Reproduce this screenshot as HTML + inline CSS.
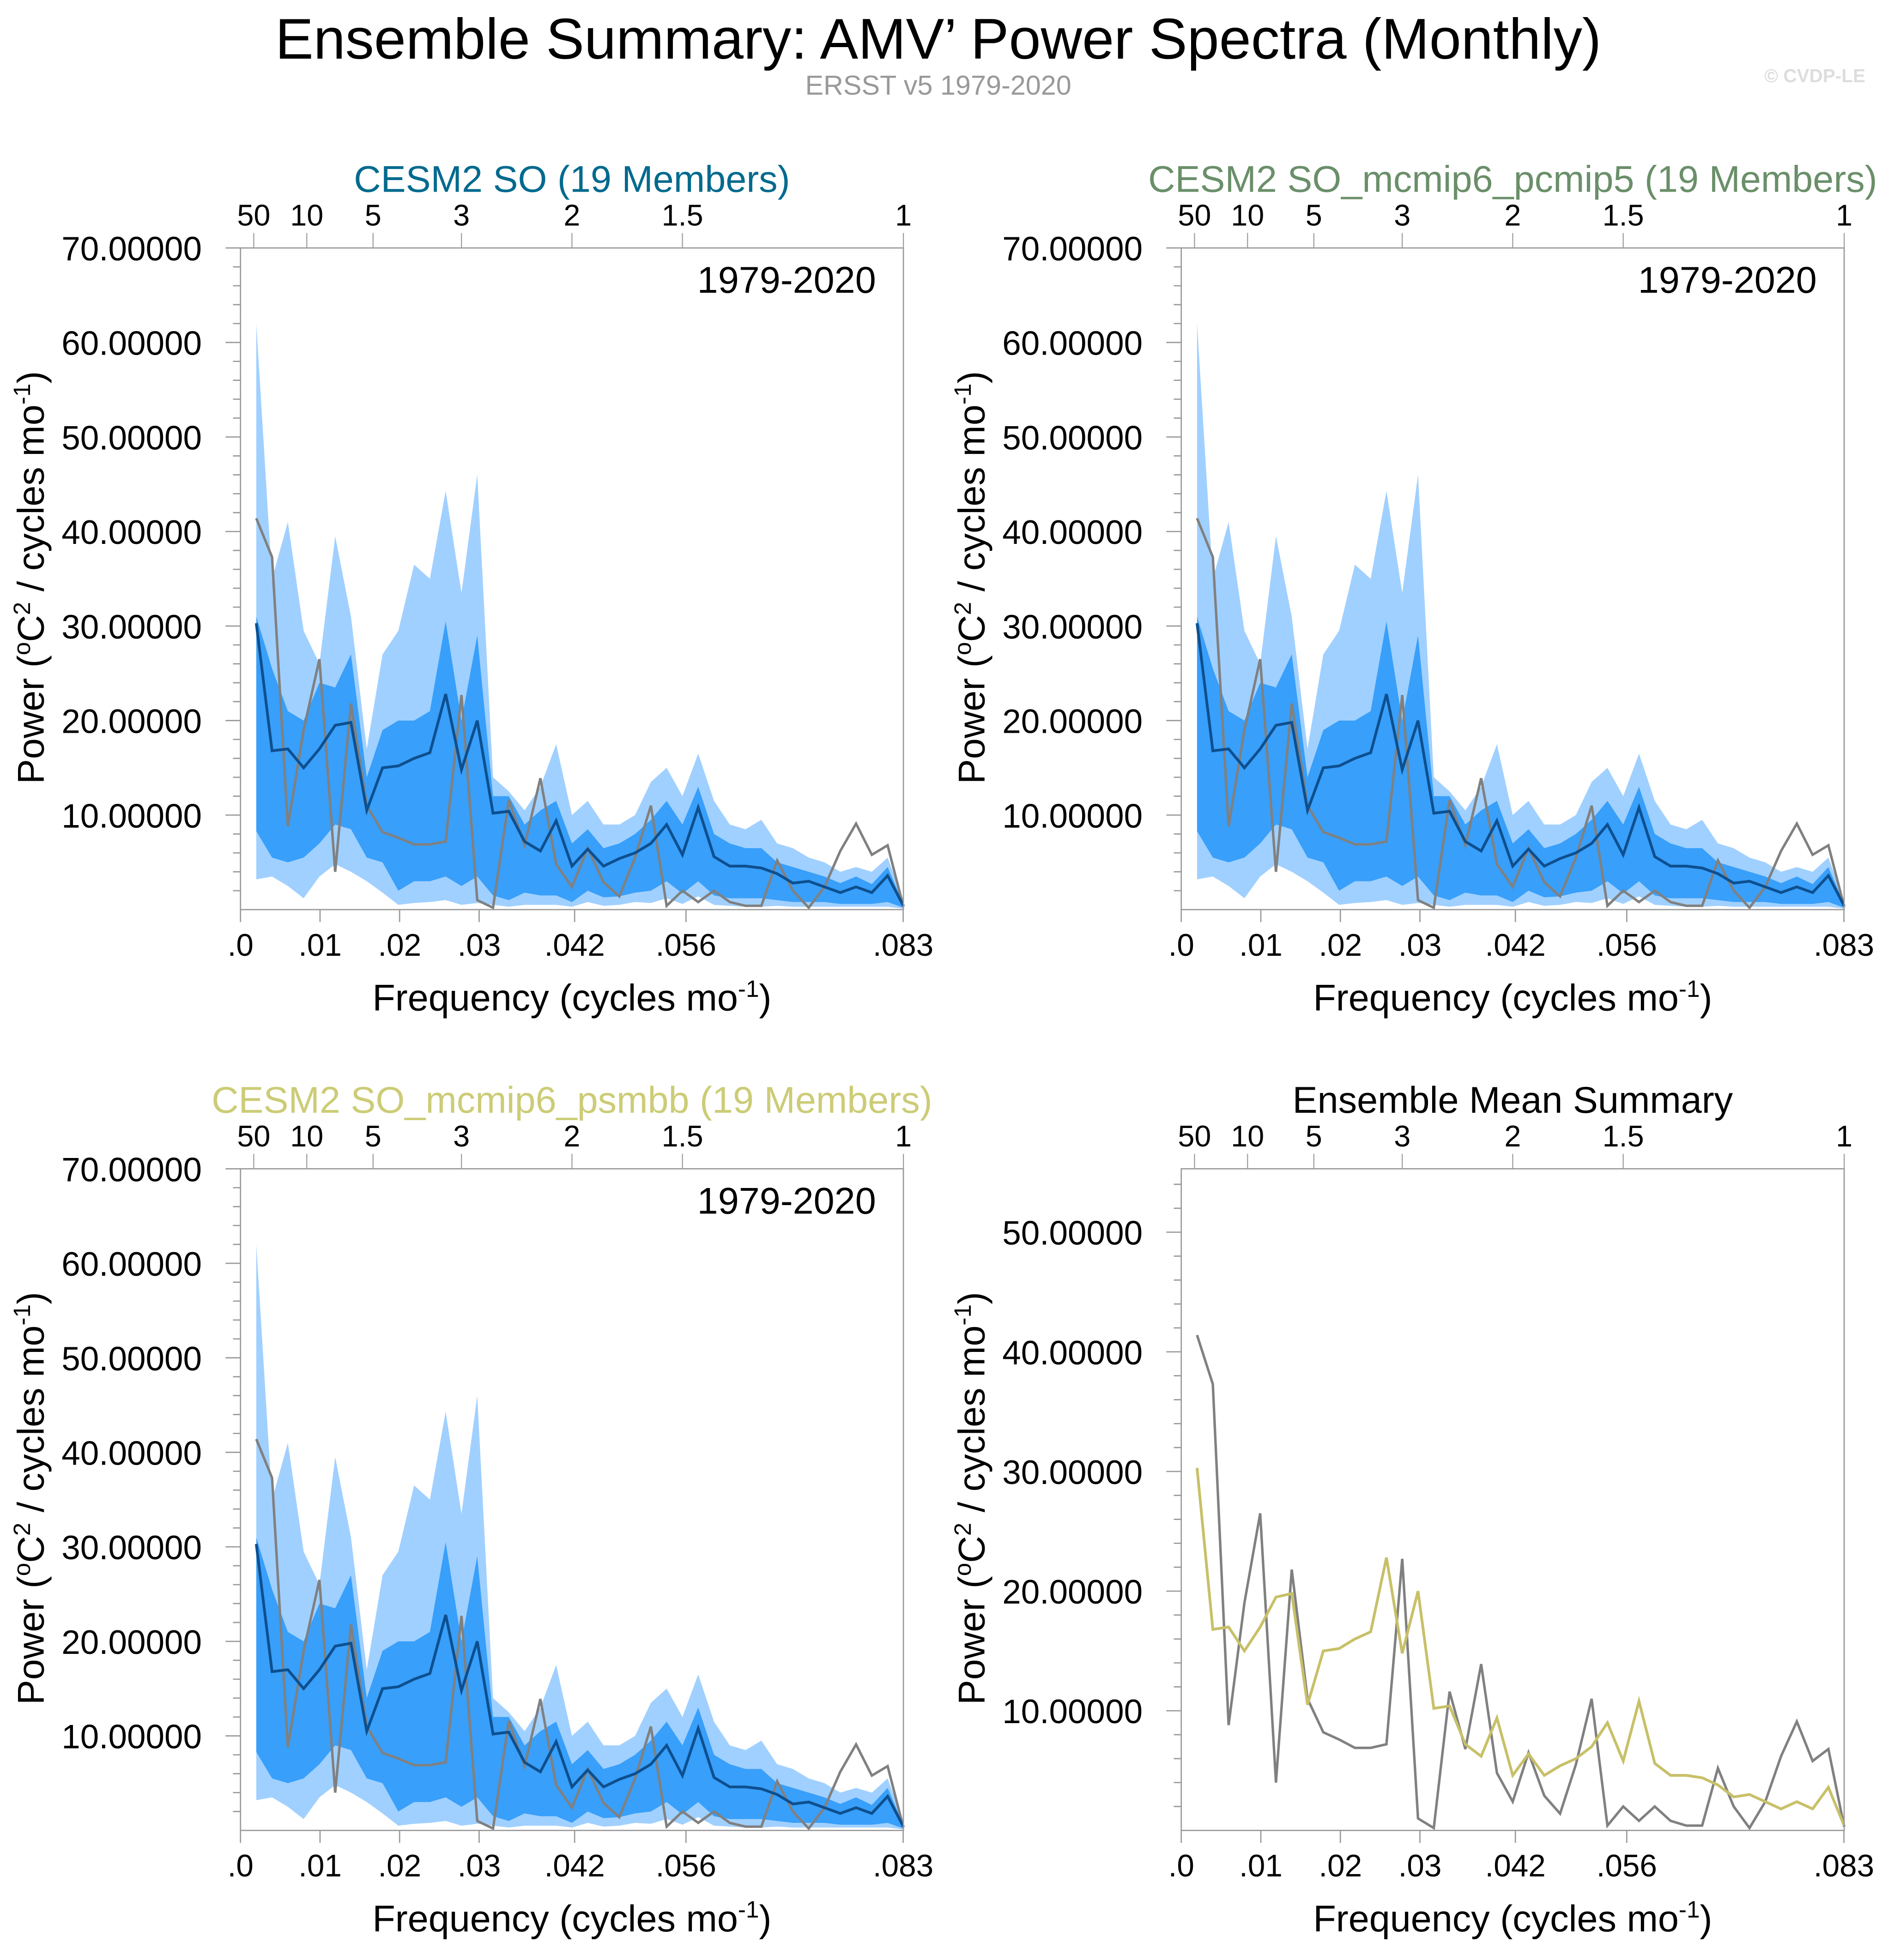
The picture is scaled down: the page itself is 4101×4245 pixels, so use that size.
<!DOCTYPE html>
<html><head><meta charset="utf-8"><style>
html,body{margin:0;padding:0;background:#fff}
svg{display:block}
text{font-family:"Liberation Sans",sans-serif}
</style></head><body>
<svg id="chart" xmlns="http://www.w3.org/2000/svg" width="4101" height="4245" viewBox="0 0 1520 1573" preserveAspectRatio="none">
<text x="753" y="47" font-size="46" text-anchor="middle" fill="#000">Ensemble Summary: AMV’ Power Spectra (Monthly)</text>
<text x="753" y="76" font-size="22" text-anchor="middle" fill="#999">ERSST v5 1979-2020</text>
<text x="1497" y="66" font-size="15" font-weight="bold" text-anchor="end" fill="#ddd">© CVDP-LE</text>
</svg>
<script>
const ensMean=[30.3,16.8,17.0,15.0,17.0,19.5,19.8,10.5,15.0,15.2,16.0,16.6,22.8,14.8,20.0,10.2,10.4,7.2,6.2,9.4,4.6,6.4,4.6,5.4,6.0,7.0,9.0,5.8,10.8,5.6,4.6,4.6,4.4,3.8,2.8,3.0,2.4,1.8,2.4,1.8,3.6,0.4];
const obs=[41.4,37.3,8.8,19.0,26.5,4.0,21.8,11.0,8.2,7.6,6.9,6.9,7.2,22.7,1.0,0.2,11.6,6.8,13.9,4.8,2.4,6.5,2.9,1.4,5.5,11.0,0.4,2.0,0.8,2.0,0.8,0.4,0.4,5.2,2.0,0.2,2.4,6.2,9.1,5.8,6.8,0.3];
const outerHi=[62,35,41,29.5,26,39.5,31,17,27,29.5,36.5,35,44.3,33.5,46,14,12.5,10.5,13,17.5,10,11.5,9,9,10,13.5,15,12,16.5,11.5,9,8.5,9.5,7,6.5,5.5,5,4,4.5,4,5.5,1.0];
const outerLo=[3.2,3.5,2.5,1.2,3.5,4.8,4.0,3.0,1.8,0.5,0.7,0.8,1.0,0.5,0.7,0.5,0.3,0.5,0.5,0.5,0.3,0.8,0.4,0.5,0.8,0.7,1.2,0.6,1.4,0.5,0.4,0.3,0.3,0.4,0.3,0.3,0.3,0.3,0.3,0.3,0.3,0.1];
const innerHi=[31,25.5,21,20,24,23.5,27,14,19,20,20,21,30.5,20,29,12,12,9,10.5,11.5,7,8.5,6.5,7,8,9.5,11.5,9,13,8,7,6.5,6.5,5,4.5,4,3.5,2.8,3.5,2.7,4.5,0.6];
const innerLo=[8.3,5.5,5.0,5.5,7,9,8.5,5.5,5,2,3,3,3.5,2.5,3.5,1.5,1.0,1.8,1.5,1.5,0.8,2,1.3,1.4,1.8,2,3,1.7,3,1.5,1.2,1.2,1.2,1.0,0.8,0.8,0.8,0.6,0.6,0.6,0.8,0.2];
const periodLabels=["50","10","5","3","2","1.5","1"];
const periodYears=[50,10,5,3,2,1.5,1];
const freqLabels=[".0",".01",".02",".03",".042",".056",".083"];
const freqTicks=[0,0.01,0.02,0.03,0.042,0.056,0.0833];
const NS="http://www.w3.org/2000/svg";
const svg=document.getElementById('chart');
function mk(tag,attrs,parent,txt){const e=document.createElementNS(NS,tag);for(const k in attrs)e.setAttribute(k,attrs[k]);if(txt!==undefined)e.textContent=txt;(parent||svg).appendChild(e);return e;}
const panels=[
 {x0:193,y0:199,title:"CESM2 SO (19 Members)",color:"#006a8e",ymax:70,bands:true,name:"panel-cesm2-so"},
 {x0:948,y0:199,title:"CESM2 SO_mcmip6_pcmip5 (19 Members)",color:"#6a8f6a",ymax:70,bands:true,name:"panel-pcmip5"},
 {x0:193,y0:938,title:"CESM2 SO_mcmip6_psmbb (19 Members)",color:"#cccc77",ymax:70,bands:true,name:"panel-psmbb"},
 {x0:948,y0:938,title:"Ensemble Mean Summary",color:"#000",ymax:55.3,bands:false,name:"panel-ensemble-mean"}
];
const W=532,H=531,FMAX=0.08333;
panels.forEach(p=>{
 const g=mk('g',{});
 
 
 const xs=f=>p.x0+W*f/FMAX;
 const ys=v=>p.y0+H-H*v/p.ymax;
 const fx=i=>xs((i+1)/504);
 const line=arr=>arr.map((v,i)=>(i?'L':'M')+fx(i).toFixed(2)+','+ys(v).toFixed(2)).join('');
 const band=(hi,lo)=>line(hi)+lo.map((v,i)=>i).reverse().map(i=>'L'+fx(i).toFixed(2)+','+ys(lo[i]).toFixed(2)).join('')+'Z';
 const t=mk('text',{x:p.x0+W/2,y:p.y0-45,'font-size':30,'text-anchor':'middle',fill:p.color},g,p.title);
 
 
 if(p.bands){
  const b1=mk('path',{d:band(outerHi,outerLo),fill:'#a0d0ff'},g);
  
  
  const b2=mk('path',{d:band(innerHi,innerLo),fill:'#389ffa'},g);
  
  
  const lb=mk('text',{x:p.x0+W-22,y:p.y0+36,'font-size':30,'text-anchor':'end',fill:'#000'},g,'1979-2020');
  
  
 }
 const ol=mk('path',{d:line(obs),fill:'none',stroke:'#808080','stroke-width':2},g);
 
 
 const ml=mk('path',{d:line(ensMean),fill:'none',stroke:p.bands?'#0d4f8f':'#c8c068','stroke-width':2.2},g);
 
 
 const fr=mk('rect',{x:p.x0,y:p.y0,width:W,height:H,fill:'none',stroke:'#999','stroke-width':1},g);
 
 
 for(let v=2;v<=p.ymax+0.01;v+=2){
  const major=v%10===0;
  mk('line',{x1:p.x0-(major?12:6),x2:p.x0,y1:ys(v),y2:ys(v),stroke:'#999','stroke-width':1},g);
  if(major){
   const yl=mk('text',{x:p.x0-31,y:ys(v)+10,'font-size':27,'text-anchor':'end',fill:'#000'},g,v.toFixed(5));
   
   
  }
 }
 freqTicks.forEach((f,i)=>{
  mk('line',{x1:xs(f),x2:xs(f),y1:p.y0+H,y2:p.y0+H+10,stroke:'#999','stroke-width':1},g);
  const xl=mk('text',{x:xs(f),y:p.y0+H+37,'font-size':25,'text-anchor':'middle',fill:'#000'},g,freqLabels[i]);
  
  
 });
 periodYears.forEach((py,i)=>{
  const f=1/(12*py);
  mk('line',{x1:xs(f),x2:xs(f),y1:p.y0,y2:p.y0-12,stroke:'#999','stroke-width':0.8},g);
  const tl=mk('text',{x:xs(f),y:p.y0-18,'font-size':24,'text-anchor':'middle',fill:'#000'},g,periodLabels[i]);
  
  
 });
 const xt=mk('text',{x:p.x0+W/2,y:p.y0+H+81,'font-size':30,'text-anchor':'middle',fill:'#000'},g);
 xt.innerHTML='Frequency (cycles mo<tspan dy="-11" font-size="19">-1</tspan><tspan dy="11">)</tspan>';
 
 
 const cy=p.y0+H/2-1;
 const yt=mk('text',{x:0,y:0,transform:`translate(${p.x0-158},${cy}) rotate(-90)`,'font-size':30,'text-anchor':'middle',fill:'#000'},g);
 yt.innerHTML='Power (<tspan dy="-11" font-size="19">o</tspan><tspan dy="11">C</tspan><tspan dy="-11" font-size="19">2</tspan><tspan dy="11"> / cycles mo</tspan><tspan dy="-11" font-size="19">-1</tspan><tspan dy="11">)</tspan>';
 
 
});
</script>
</body></html>
